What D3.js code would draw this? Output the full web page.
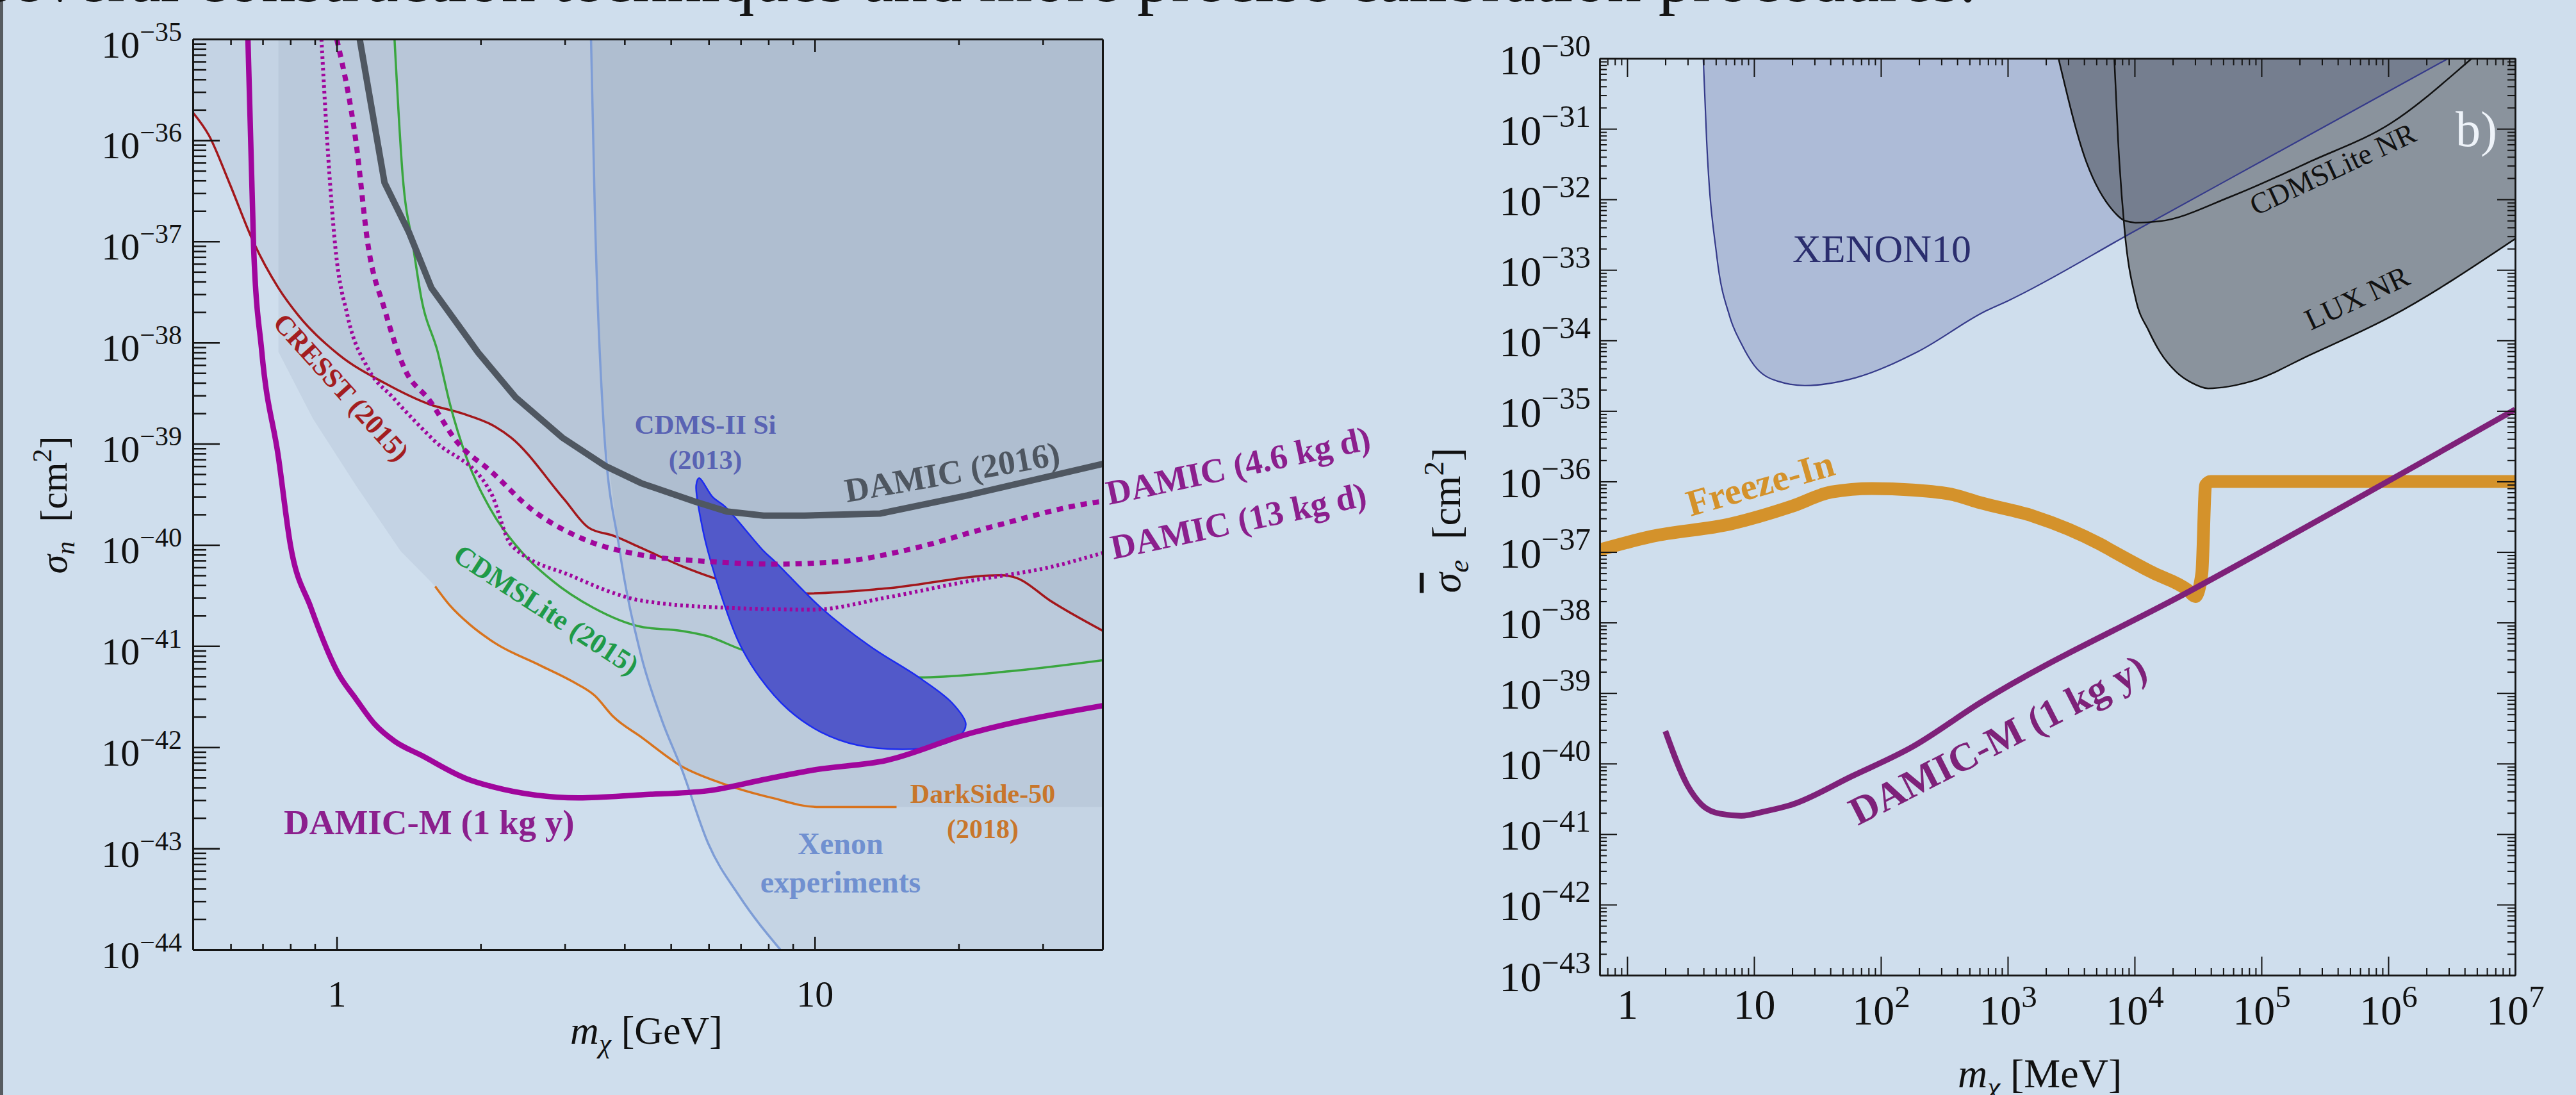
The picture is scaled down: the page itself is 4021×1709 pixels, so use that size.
<!DOCTYPE html>
<html>
<head>
<meta charset="utf-8">
<script src="https://cdn.jsdelivr.net/npm/d3@7"></script>
<style>
body { margin: 0; background: #cfdeed; overflow: hidden; }
svg { display: block; }
text { font-family: "Liberation Serif", "Times New Roman", serif; }
</style>
</head>
<body>
<div id="chart"></div>
<script>
// ---------- left panel: sigma_n vs m (GeV), log10 of sigma in cm^2 ----------
var leftYExp = [-35, -36, -37, -38, -39, -40, -41, -42, -43, -44];
var leftXMajor = [1, 10];
var leftXMinor = [0.6, 0.7, 0.8, 0.9, 2, 3, 4, 5, 6, 7, 8, 9, 20, 30];

var damicM_mass = [0.652, 0.670, 0.697, 0.755, 0.800, 0.883, 1.01, 1.096, 1.2, 1.321, 1.503, 1.866, 2.118, 3.206, 4.335, 5.984, 7.816, 10.09, 14.13, 20.89, 40];
var damicM_logs = [-35.0, -37.05, -38.09, -39.13, -40.0, -40.62, -41.28, -41.52, -41.77, -41.94, -42.08, -42.31, -42.39, -42.50, -42.47, -42.43, -42.32, -42.22, -42.13, -41.87, -41.59];

var damic16_mass = [1.117, 1.259, 1.416, 1.578, 1.977, 2.366, 2.965, 3.648, 4.335, 5.598, 6.546, 7.816, 9.528, 13.71, 20.89, 40];
var damic16_logs = [-35.0, -36.42, -36.91, -37.46, -38.10, -38.54, -38.94, -39.22, -39.39, -39.57, -39.67, -39.71, -39.71, -39.69, -39.51, -39.20];

var damic46_mass = [1.0, 1.096, 1.164, 1.259, 1.387, 1.563, 1.791, 2.099, 2.559, 3.236, 4.335, 5.821, 8.279, 11.59, 15.6, 23.07, 38.55, 40];
var damic46_logs = [-35.0, -36.0, -37.05, -37.67, -38.26, -38.57, -38.99, -39.27, -39.65, -39.93, -40.10, -40.16, -40.19, -40.16, -40.05, -39.83, -39.58, -39.57];

var damic13_mass = [0.929, 0.955, 0.993, 1.054, 1.164, 1.309, 1.592, 2.099, 2.317, 3.112, 4.335, 6.427, 9.908, 14.13, 20.89, 31.05, 40];
var damic13_logs = [-35.0, -36.0, -37.05, -37.74, -38.26, -38.54, -38.96, -39.48, -40.0, -40.31, -40.55, -40.62, -40.64, -40.52, -40.36, -40.22, -40.08];

var cresst_mass = [0.501, 0.540, 0.596, 0.670, 0.755, 0.834, 1.01, 1.259, 1.563, 1.828, 2.143, 2.317, 2.992, 3.365, 3.793, 4.335, 5.272, 6.18, 9.528, 14.13, 24.49, 26.55, 31.05, 40.09];
var cresst_logs = [-35.73, -35.95, -36.42, -37.01, -37.46, -37.74, -38.12, -38.40, -38.61, -38.70, -38.83, -38.94, -39.55, -39.83, -39.91, -40.03, -40.21, -40.33, -40.48, -40.43, -40.30, -40.33, -40.55, -40.85];

var cdmslite_mass = [1.321, 1.374, 1.445, 1.503, 1.626, 1.726, 1.866, 2.099, 2.366, 2.818, 3.436, 4.335, 5.272, 5.943, 7.079, 9.141, 16.52, 25.47, 40.09];
var cdmslite_logs = [-35.0, -36.35, -37.05, -37.56, -38.09, -38.61, -39.13, -39.65, -40.0, -40.35, -40.62, -40.81, -40.85, -40.90, -41.04, -41.17, -41.31, -41.25, -41.14];

var darkside_mass = [1.607, 1.726, 1.901, 2.143, 2.661, 3.112, 3.467, 3.793, 4.335, 5.272, 6.427, 8.128, 10.09, 14.83];
var darkside_logs = [-40.41, -40.60, -40.79, -40.97, -41.19, -41.35, -41.49, -41.70, -41.90, -42.19, -42.36, -42.50, -42.59, -42.59];
// unlined edge of the DarkSide shading, top-left part
var darksideEdge_mass = [0.755, 0.755, 0.891, 1.096, 1.36, 1.563];
var darksideEdge_logs = [-35.0, -38.09, -38.75, -39.41, -40.06, -40.35];
var darksideFloor_mass = [40];
var darksideFloor_logs = [-42.59];

var xenon_mass = [3.404, 3.467, 3.614, 3.90, 4.32, 4.786, 5.272, 5.984, 6.95, 8.472];
var xenon_logs = [-35.0, -36.70, -38.78, -40.03, -41.07, -41.73, -42.22, -42.95, -43.47, -44.0];

var cdmsSi_mass = [5.728, 6.124, 6.486, 7.816, 8.279, 10.3, 13.03, 16.52, 19.36, 20.7, 20.09, 17.86, 15.28, 12.3, 10.3, 8.81, 7.674, 6.95, 6.427, 5.984, 5.821, 5.649];
var cdmsSi_logs = [-39.34, -39.53, -39.62, -40.06, -40.17, -40.62, -41.00, -41.31, -41.56, -41.77, -41.89, -41.99, -42.02, -41.98, -41.85, -41.63, -41.31, -40.97, -40.55, -40.07, -39.83, -39.41];

// ---------- right panel: sigma_e vs m (MeV) ----------
var rightYExp = [-30, -31, -32, -33, -34, -35, -36, -37, -38, -39, -40, -41, -42, -43];
var rightXExp = [0, 1, 2, 3, 4, 5, 6, 7];

var xenon10_mass = [3.98, 4.23, 5.09, 6.43, 8.02, 10, 15.5, 25.1, 63.1, 195, 676, 1000, 1e4, 1e5, 1e6, 2.99e6];
var xenon10_logs = [-30.0, -31.16, -32.81, -33.66, -34.06, -34.35, -34.58, -34.64, -34.53, -34.16, -33.58, -33.44, -32.45, -31.46, -30.47, -30.0];

var cdmsliteNR_mass = [2512, 4074, 6761, 8318, 1.02e4, 1.58e4, 5.75e4, 2.45e5, 1.05e6, 4.37e6, 4.57e6];
var cdmsliteNR_logs = [-30.0, -31.42, -32.16, -32.30, -32.33, -32.31, -31.96, -31.46, -30.92, -30.03, -30.0];

var luxNR_mass = [6918, 7413, 8318, 1.02e4, 1.29e4, 1.58e4, 2.14e4, 2.82e4, 3.8e4, 8.32e4, 2.45e5, 1.05e6, 1e7];
var luxNR_logs = [-30.0, -31.16, -32.41, -33.41, -33.86, -34.16, -34.45, -34.60, -34.68, -34.58, -34.20, -33.66, -32.56];

var freezeIn_mass = [0.607, 1.55, 6.61, 20, 40.7, 85, 178, 377, 603, 1585, 5370, 6761, 1.38e4, 2.63e4, 3.02e4, 3.39e4, 3.63e4, 3.98e4, 1e7];
var freezeIn_logs = [-36.97, -36.78, -36.60, -36.35, -36.15, -36.10, -36.12, -36.19, -36.30, -36.49, -36.89, -36.99, -37.29, -37.54, -37.63, -37.30, -36.05, -36.00, -36.00];

var damicMe_mass = [2.0, 2.99, 3.85, 5.37, 7.94, 12, 20, 58.9, 178, 603, 2.82e4, 1e7];
var damicMe_logs = [-39.54, -40.31, -40.58, -40.71, -40.74, -40.68, -40.58, -40.18, -39.76, -39.14, -37.54, -34.98];

// ---------------------------------------------------------------
var W = 4021, H = 1709;
var FONT = '"Liberation Serif", "Times New Roman", serif';
var svg = d3.select('#chart').append('svg').attr('width', W).attr('height', H);

svg.append('rect').attr('width', W).attr('height', H).attr('fill', '#cfdeed');
svg.append('rect').attr('width', 5).attr('height', H).attr('fill', '#575c61');
svg.append('text')
   .attr('x', 3085).attr('y', 2)
   .attr('text-anchor', 'end')
   .attr('font-size', 107)
   .attr('fill', '#151515')
   .text('several construction techniques and more precise calibration procedures.');

function pw(e) { return Math.pow(10, e); }
function minus(e) { return e < 0 ? '\u2212' + (-e) : '' + e; }
function minorsOf(exps, lo, hi) {
	var out = [];
	exps.forEach(function(e) {
		for (var k = 2; k <= 9; k++) {
			var v = k * pw(e);
			if (v > lo && v < hi) out.push(v);
		}
	});
	return out;
}
function styleAxis(g, w) {
	g.selectAll('.domain').attr('stroke', '#151515').attr('stroke-width', w);
	g.selectAll('.tick line').attr('stroke', '#151515').attr('stroke-width', w * 0.85);
}

// ======================= LEFT PANEL =======================
var xL = d3.scaleLog().domain([0.5, 40]).range([301, 1721]);
var yL = d3.scaleLog().domain([1e-44, 1e-35]).range([1482, 61]);
var gL = svg.append('g');

svg.append('clipPath').attr('id', 'clipL')
   .append('rect')
   .attr('x', xL.range()[0]).attr('y', yL.range()[1])
   .attr('width', xL.range()[1] - xL.range()[0])
   .attr('height', yL.range()[0] - yL.range()[1]);
var plotL = gL.append('g').attr('clip-path', 'url(#clipL)');

function ptsL(mass, logs) {
	return mass.map(function(m, i) { return [xL(m), yL(pw(logs[i]))]; });
}
var topL = yL.range()[1];
var areaL = d3.area().x(function(d) { return d[0]; }).y0(topL).y1(function(d) { return d[1]; });
var lineL = d3.line().curve(d3.curveMonotoneX);
var lineLin = d3.line();

// shaded exclusion regions
var shade = '#24384f';
plotL.append('path').attr('d', areaL(ptsL(cresst_mass, cresst_logs)))
     .attr('fill', shade).attr('fill-opacity', 0.06);
plotL.append('path')
     .attr('d', areaL(ptsL(darksideEdge_mass, darksideEdge_logs)
                 .concat(ptsL(darkside_mass, darkside_logs))
                 .concat(ptsL(darksideFloor_mass, darksideFloor_logs))))
     .attr('fill', shade).attr('fill-opacity', 0.06);
plotL.append('path').attr('d', areaL(ptsL(damic16_mass, damic16_logs)))
     .attr('fill', shade).attr('fill-opacity', 0.015);
plotL.append('path')
     .attr('d', areaL(ptsL(xenon_mass, xenon_logs).concat([[xL.range()[1], yL.range()[0]]])))
     .attr('fill', shade).attr('fill-opacity', 0.055);

// limit curves
plotL.append('path').attr('d', lineL(ptsL(cresst_mass, cresst_logs)))
     .attr('fill', 'none').attr('stroke', '#a3171b').attr('stroke-width', 3.5);
plotL.append('path').attr('d', lineL(ptsL(cdmslite_mass, cdmslite_logs)))
     .attr('fill', 'none').attr('stroke', '#3aa63f').attr('stroke-width', 3.5);
plotL.append('path').attr('d', lineL(ptsL(darkside_mass, darkside_logs)))
     .attr('fill', 'none').attr('stroke', '#d8731d').attr('stroke-width', 3.5);
plotL.append('path').attr('d', lineL(ptsL(xenon_mass, xenon_logs)))
     .attr('fill', 'none').attr('stroke', '#7e9dd6').attr('stroke-width', 3.5);

plotL.append('path')
     .attr('d', d3.line().curve(d3.curveCatmullRomClosed)(ptsL(cdmsSi_mass, cdmsSi_logs)))
     .attr('fill', '#5259c9').attr('stroke', '#1c2cf0').attr('stroke-width', 2.5);

plotL.append('path').attr('d', lineLin(ptsL(damic16_mass, damic16_logs)))
     .attr('fill', 'none').attr('stroke', '#4f5761').attr('stroke-width', 10);
plotL.append('path').attr('d', lineL(ptsL(damic13_mass, damic13_logs)))
     .attr('fill', 'none').attr('stroke', '#a0069c').attr('stroke-width', 6)
     .attr('stroke-dasharray', '4,5');
plotL.append('path').attr('d', lineL(ptsL(damic46_mass, damic46_logs)))
     .attr('fill', 'none').attr('stroke', '#a0069c').attr('stroke-width', 8)
     .attr('stroke-dasharray', '10,9');
plotL.append('path').attr('d', lineL(ptsL(damicM_mass, damicM_logs)))
     .attr('fill', 'none').attr('stroke', '#a0069c').attr('stroke-width', 8.5);

// axes
var axYL = gL.append('g').attr('transform', 'translate(' + xL.range()[0] + ',0)')
	.call(d3.axisLeft(yL).tickValues(leftYExp.map(pw)).tickSize(-42).tickSizeOuter(0).tickPadding(17));
axYL.selectAll('.tick text').each(function(d, i) {
	var t = d3.select(this);
	t.text(null).attr('dy', null).attr('y', 28)
	 .attr('font-size', 60).attr('font-family', FONT).attr('fill', '#111');
	t.append('tspan').text('10');
	t.append('tspan').attr('font-size', 42).attr('dy', -26).text(minus(leftYExp[i]));
});
gL.append('g').attr('transform', 'translate(' + xL.range()[0] + ',0)')
	.call(d3.axisLeft(yL).tickValues(minorsOf(leftYExp, 1e-44, 1e-35)).tickSize(-21).tickSizeOuter(0).tickFormat(''));

var axXL = gL.append('g').attr('transform', 'translate(0,' + yL.range()[0] + ')')
	.call(d3.axisBottom(xL).tickValues(leftXMajor).tickSize(-20).tickSizeOuter(0).tickFormat(d3.format('d')));
axXL.selectAll('.tick text').attr('dy', null).attr('y', 89)
	.attr('font-size', 58).attr('font-family', FONT).attr('fill', '#111');
gL.append('g').attr('transform', 'translate(0,' + yL.range()[0] + ')')
	.call(d3.axisBottom(xL).tickValues(leftXMinor).tickSize(-9).tickSizeOuter(0).tickFormat(''));
gL.append('g').attr('transform', 'translate(0,' + yL.range()[1] + ')')
	.call(d3.axisTop(xL).tickValues(leftXMajor).tickSize(-20).tickSizeOuter(0).tickFormat(''));
gL.append('g').attr('transform', 'translate(0,' + yL.range()[1] + ')')
	.call(d3.axisTop(xL).tickValues(leftXMinor).tickSize(-9).tickSizeOuter(0).tickFormat(''));
gL.append('g').attr('transform', 'translate(' + xL.range()[1] + ',0)')
	.call(d3.axisRight(yL).tickValues([]).tickSizeOuter(0));
styleAxis(gL, 3);

// axis titles
var tyL = gL.append('text').attr('transform', 'translate(104,788) rotate(-90)')
	.attr('text-anchor', 'middle').attr('font-size', 60).attr('fill', '#111');
tyL.append('tspan').attr('font-style', 'italic').text('\u03C3');
tyL.append('tspan').attr('font-style', 'italic').attr('font-size', 42).attr('dy', 12).text('n');
tyL.append('tspan').attr('dy', -12).text('\u2002[cm');
tyL.append('tspan').attr('font-size', 42).attr('dy', -24).text('2');
tyL.append('tspan').attr('dy', 24).text(']');

var txL = gL.append('text').attr('x', 890).attr('y', 1629).attr('font-size', 62).attr('fill', '#111');
txL.append('tspan').attr('font-style', 'italic').text('m');
txL.append('tspan').attr('font-style', 'italic').attr('font-size', 44).attr('dy', 14).text('\u03C7');
txL.append('tspan').attr('dy', -14).text(' [GeV]');

// curve labels
function lab(g, x, y, rot, size, color, txt, bold, anchor) {
	return g.append('text')
		.attr('transform', 'translate(' + x + ',' + y + ') rotate(' + rot + ')')
		.attr('font-size', size).attr('fill', color)
		.attr('font-weight', bold ? 'bold' : 'normal')
		.attr('text-anchor', anchor || 'start')
		.text(txt);
}
lab(gL, 533, 604, 48, 43, '#a31d20', 'CRESST (2015)', true, 'middle').attr('dy', '0.35em');
lab(gL, 853, 951, 33, 44, '#1f9a48', 'CDMSLite (2015)', true, 'middle').attr('dy', '0.35em');
lab(gL, 1534, 1253, 0, 42, '#c8762b', 'DarkSide-50', true, 'middle');
lab(gL, 1534, 1308, 0, 42, '#c8762b', '(2018)', true, 'middle');
lab(gL, 1312, 1333, 0, 48, '#7090d0', 'Xenon', true, 'middle');
lab(gL, 1312, 1393, 0, 48, '#7090d0', 'experiments', true, 'middle');
lab(gL, 1101, 677, 0, 43, '#5963b3', 'CDMS-II Si', true, 'middle');
lab(gL, 1101, 732, 0, 43, '#5963b3', '(2013)', true, 'middle');
lab(gL, 1322, 784, -10, 53, '#4e5660', 'DAMIC (2016)', true);
lab(gL, 1731, 788, -12, 54, '#8b1f8d', 'DAMIC (4.6 kg d)', true);
lab(gL, 1738, 873, -12, 54, '#8b1f8d', 'DAMIC (13 kg d)', true);
lab(gL, 443, 1302, 0, 55, '#8b1f8d', 'DAMIC-M (1 kg y)', true);

// ======================= RIGHT PANEL =======================
var xR = d3.scaleLog().domain([0.607, 1e7]).range([2497, 3926]);
var yR = d3.scaleLog().domain([1e-43, 1e-30]).range([1522, 91]);
var gR = svg.append('g');

svg.append('clipPath').attr('id', 'clipR')
   .append('rect')
   .attr('x', xR.range()[0]).attr('y', yR.range()[1])
   .attr('width', xR.range()[1] - xR.range()[0])
   .attr('height', yR.range()[0] - yR.range()[1]);
var plotR = gR.append('g').attr('clip-path', 'url(#clipR)');

function ptsR(mass, logs) {
	return mass.map(function(m, i) { return [xR(m), yR(pw(logs[i]))]; });
}
var areaR = d3.area().curve(d3.curveMonotoneX)
	.x(function(d) { return d[0]; }).y0(yR.range()[1]).y1(function(d) { return d[1]; });
var lineR = d3.line().curve(d3.curveMonotoneX);

plotR.append('path').attr('d', areaR(ptsR(xenon10_mass, xenon10_logs)))
     .attr('fill', '#adbbd7');
// CDMSLite NR and LUX NR regions, filled once as a union
plotR.append('path')
     .attr('d', areaR(ptsR(cdmsliteNR_mass, cdmsliteNR_logs)) + areaR(ptsR(luxNR_mass, luxNR_logs)))
     .attr('fill', '#1b1b1b').attr('fill-opacity', 0.38).attr('fill-rule', 'nonzero');
plotR.append('path').attr('d', lineR(ptsR(xenon10_mass, xenon10_logs)))
     .attr('fill', 'none').attr('stroke', '#353a8a').attr('stroke-width', 2.2);
plotR.append('path').attr('d', lineR(ptsR(cdmsliteNR_mass, cdmsliteNR_logs)))
     .attr('fill', 'none').attr('stroke', '#111').attr('stroke-width', 2.5);
plotR.append('path').attr('d', lineR(ptsR(luxNR_mass, luxNR_logs)))
     .attr('fill', 'none').attr('stroke', '#111').attr('stroke-width', 2.5);
plotR.append('path').attr('d', lineR(ptsR(freezeIn_mass, freezeIn_logs)))
     .attr('fill', 'none').attr('stroke', '#d4922b').attr('stroke-width', 20)
     .attr('stroke-linejoin', 'round');
plotR.append('path').attr('d', lineR(ptsR(damicMe_mass, damicMe_logs)))
     .attr('fill', 'none').attr('stroke', '#7e2179').attr('stroke-width', 9);

// axes
var yMinR = minorsOf(rightYExp, 1e-43, 1e-30);
var xMinR = minorsOf([-1, 0, 1, 2, 3, 4, 5, 6], 0.607, 1e7);
var axYR = gR.append('g').attr('transform', 'translate(' + xR.range()[0] + ',0)')
	.call(d3.axisLeft(yR).tickValues(rightYExp.map(pw)).tickSize(-27).tickSizeOuter(0).tickPadding(14));
axYR.selectAll('.tick text').each(function(d, i) {
	var t = d3.select(this);
	t.text(null).attr('dy', null).attr('y', 24)
	 .attr('font-size', 66).attr('font-family', FONT).attr('fill', '#111');
	t.append('tspan').text('10');
	t.append('tspan').attr('font-size', 49).attr('dy', -28).text(minus(rightYExp[i]));
});
gR.append('g').attr('transform', 'translate(' + xR.range()[0] + ',0)')
	.call(d3.axisLeft(yR).tickValues(yMinR).tickSize(-11).tickSizeOuter(0).tickFormat(''));
gR.append('g').attr('transform', 'translate(' + xR.range()[1] + ',0)')
	.call(d3.axisRight(yR).tickValues(rightYExp.map(pw)).tickSize(-28).tickSizeOuter(0).tickFormat(''));
gR.append('g').attr('transform', 'translate(' + xR.range()[1] + ',0)')
	.call(d3.axisRight(yR).tickValues(yMinR).tickSize(-12).tickSizeOuter(0).tickFormat(''));

var axXR = gR.append('g').attr('transform', 'translate(0,' + yR.range()[0] + ')')
	.call(d3.axisBottom(xR).tickValues(rightXExp.map(pw)).tickSize(-29).tickSizeOuter(0));
axXR.selectAll('.tick text').each(function(d, i) {
	var t = d3.select(this), e = rightXExp[i];
	t.text(null).attr('dy', null).attr('y', e < 2 ? 68 : 77)
	 .attr('font-size', 66).attr('font-family', FONT).attr('fill', '#111');
	if (e === 0) t.text('1');
	else if (e === 1) t.text('10');
	else {
		t.append('tspan').text('10');
		t.append('tspan').attr('font-size', 49).attr('dy', -27).text(e);
	}
});
gR.append('g').attr('transform', 'translate(0,' + yR.range()[0] + ')')
	.call(d3.axisBottom(xR).tickValues(xMinR).tickSize(-11).tickSizeOuter(0).tickFormat(''));
gR.append('g').attr('transform', 'translate(0,' + yR.range()[1] + ')')
	.call(d3.axisTop(xR).tickValues(rightXExp.map(pw)).tickSize(-29).tickSizeOuter(0).tickFormat(''));
gR.append('g').attr('transform', 'translate(0,' + yR.range()[1] + ')')
	.call(d3.axisTop(xR).tickValues(xMinR).tickSize(-11).tickSizeOuter(0).tickFormat(''));
styleAxis(gR, 2.4);

// axis titles
var tyR = gR.append('text').attr('transform', 'translate(2279,812) rotate(-90)')
	.attr('text-anchor', 'middle').attr('font-size', 64).attr('fill', '#111');
tyR.append('tspan').attr('font-style', 'italic').style('text-decoration', 'overline').text('\u03C3');
tyR.append('tspan').attr('font-style', 'italic').attr('font-size', 45).attr('dy', 13).text('e');
tyR.append('tspan').attr('dy', -13).text('\u2002[cm');
tyR.append('tspan').attr('font-size', 45).attr('dy', -26).text('2');
tyR.append('tspan').attr('dy', 26).text(']');

var txR = gR.append('text').attr('x', 3056).attr('y', 1697).attr('font-size', 64).attr('fill', '#111');
txR.append('tspan').attr('font-style', 'italic').text('m');
txR.append('tspan').attr('font-style', 'italic').attr('font-size', 45).attr('dy', 14).text('\u03C7');
txR.append('tspan').attr('dy', -14).text(' [MeV]');

// labels
lab(gR, 2798, 409, 0, 62, '#2b2e6e', 'XENON10', false);
lab(gR, 3521, 337, -25, 46, '#111', 'CDMSLite NR', false);
lab(gR, 3607, 516, -25, 47, '#111', 'LUX NR', false);
lab(gR, 3898, 228, 0, 78, '#eef3f9', 'b)', false, 'end');
lab(gR, 2639, 806, -16, 58, '#d4922b', 'Freeze-In', true);
lab(gR, 2900, 1289, -27, 62, '#7e2179', 'DAMIC-M (1 kg y)', true);
</script>
</body>
</html>
